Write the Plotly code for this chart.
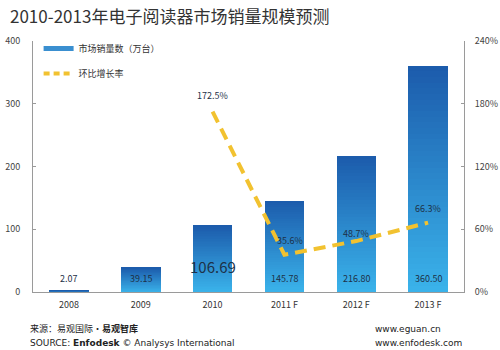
import plotly.graph_objects as go

categories = ["2008", "2009", "2010", "2011 F", "2012 F", "2013 F"]
sales = [2.07, 39.15, 106.69, 145.78, 216.80, 360.50]
growth_cats = ["2010", "2011 F", "2012 F", "2013 F"]
growth = [172.5, 35.6, 48.7, 66.3]
sales_labels = ["2.07", "39.15", "106.69", "145.78", "216.80", "360.50"]
growth_labels = ["172.5%", "35.6%", "48.7%", "66.3%"]
y_ticks = [0, 100, 200, 300, 400]
y2_ticks = [0, 60, 120, 180, 240]
y2_tick_labels = ["0%", "60%", "120%", "180%", "240%"]

FONT = "Noto Sans CJK SC, DejaVu Sans, sans-serif"
top_rgb = (28, 92, 172)
bot_rgb = (58, 178, 234)
N = 40

fig = go.Figure()
for i in range(N):
    t = i / (N - 1)
    c = tuple(round(bot_rgb[k] + (top_rgb[k] - bot_rgb[k]) * t) for k in range(3))
    fig.add_trace(go.Bar(
        x=categories, y=[v / N for v in sales],
        marker=dict(color="rgb(%d,%d,%d)" % c, line=dict(width=0)),
        width=0.55, showlegend=False, hoverinfo="skip", yaxis="y"))

fig.add_trace(go.Scatter(
    x=growth_cats, y=growth, yaxis="y2", mode="lines",
    line=dict(color="#F2C230", width=4, dash="12px,7px"),
    showlegend=False, hoverinfo="skip"))

# legend proxies
fig.add_trace(go.Scatter(x=[categories[0]], y=[None], mode="lines", name="市场销量数（万台）",
                         line=dict(color="#3a8fd0", width=5), legendgroup="a", hoverinfo="skip"))
fig.add_trace(go.Scatter(x=[categories[0]], y=[None], mode="lines", name="环比增长率",
                         line=dict(color="#F2C230", width=4, dash="6px,4px"), legendgroup="b",
                         hoverinfo="skip"))

W, H = 500, 350
ML, MR, MT, MB = 33, 36, 41, 58
pw, ph = W - ML - MR, H - MT - MB

ann = []
for idx, lab in enumerate(sales_labels):
    big = lab == "106.69"
    ann.append(dict(x=idx, y=0, xref="x", yref="y", text=lab, showarrow=False,
                    yanchor="bottom", yshift=13 if big else 5,
                    font=dict(size=15 if big else 9, color="#1d3148", family=FONT)))
shifts = {"172.5%": 8, "35.6%": 6, "48.7%": -1, "66.3%": 6}
for c, g, lab in zip(growth_cats, growth, growth_labels):
    ann.append(dict(x=categories.index(c), y=g, xref="x", yref="y2", text=lab, showarrow=False,
                    yanchor="bottom", yshift=shifts[lab],
                    xshift=6 if lab == "35.6%" else 0,
                    font=dict(size=9, color="#1d3148", family=FONT)))


def px_note(px, py, text, size, family, color="#222222"):
    return dict(x=(px - ML) / pw, y=(H - MB - py) / ph, xref="paper", yref="paper",
                text=text, showarrow=False, xanchor="left", yanchor="middle",
                font=dict(size=size, color=color, family=family))


ann += [
    px_note(8, 15, "2010-2013年电子阅读器市场销量规模预测", 17, FONT, "#333333"),
    px_note(28, 328, "来源：易观国际·<b>易观智库</b>", 9, FONT),
    px_note(28, 343, "SOURCE: <b>Enfodesk</b> © Analysys International", 9, "DejaVu Sans"),
    px_note(373, 329, "www.eguan.cn", 9, "DejaVu Sans"),
    px_note(373, 343, "www.enfodesk.com", 9, "DejaVu Sans"),
]

fig.update_layout(
    width=W, height=H, margin=dict(l=ML, r=MR, t=MT, b=MB),
    paper_bgcolor="white", plot_bgcolor="white", barmode="stack",
    font=dict(family=FONT, size=9, color="#444444"),
    xaxis=dict(type="category", categoryorder="array", categoryarray=categories,
               range=[-0.5, len(categories) - 0.5], automargin=False,
               showline=True, linecolor="#9a9a9a", linewidth=1, ticks="",
               tickfont=dict(size=9, color="#333333"), showgrid=False, ticklabelstandoff=4),
    yaxis=dict(range=[0, 400], tickvals=y_ticks, showline=True, linecolor="#9a9a9a",
               ticks="inside", ticklen=3, tickcolor="#9a9a9a", showgrid=False, zeroline=False,
               automargin=False,
               tickfont=dict(size=9, color="#444444"), ticklabelstandoff=10),
    yaxis2=dict(range=[0, 240], tickvals=y2_ticks, ticktext=y2_tick_labels,
                overlaying="y", side="right", automargin=False,
                showline=True, linecolor="#9a9a9a", ticks="inside", ticklen=3, tickcolor="#9a9a9a",
                showgrid=False, zeroline=False, tickfont=dict(size=9, color="#444444"),
                ticklabelstandoff=8),
    legend=dict(x=0.013, y=1.028, xanchor="left", yanchor="top", bgcolor="rgba(0,0,0,0)",
                font=dict(size=9, color="#333333"), tracegroupgap=6, traceorder="grouped",
                itemwidth=30),
    annotations=ann,
)

fig.write_html("out.html")
